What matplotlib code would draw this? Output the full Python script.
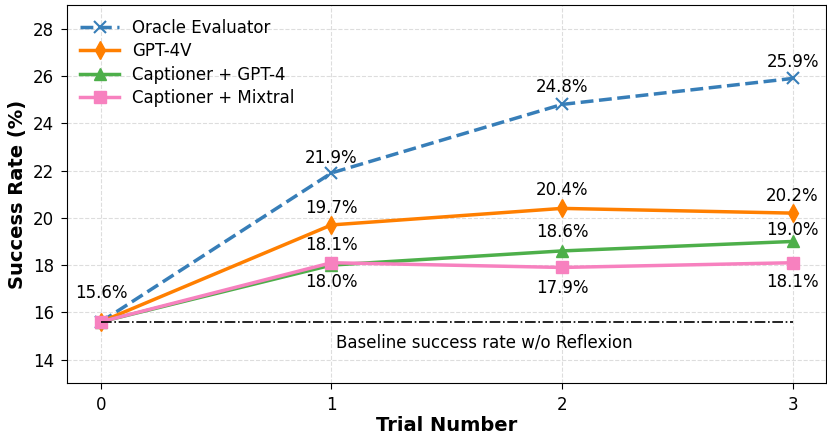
import matplotlib
matplotlib.use("Agg")
import matplotlib.pyplot as plt

trials = [0, 1, 2, 3]
oracle = [15.6, 21.9, 24.8, 25.9]
gpt4v = [15.6, 19.7, 20.4, 20.2]
cap_gpt4 = [15.6, 18.0, 18.6, 19.0]
cap_mixtral = [15.6, 18.1, 17.9, 18.1]
baseline = 15.6

fig, ax = plt.subplots(figsize=(8.28, 4.34), dpi=100)
fig.subplots_adjust(left=0.081, right=0.997, top=0.988, bottom=0.117)

ax.plot(trials, oracle, color="#377eb8", ls="--", marker="x", lw=2.5, ms=8, mew=1.5, label="Oracle Evaluator")
ax.plot(trials, gpt4v, color="#ff7f00", ls="-", marker="d", lw=2.5, ms=9, label="GPT-4V")
ax.plot(trials, cap_gpt4, color="#4daf4a", ls="-", marker="^", lw=2.5, ms=8, label="Captioner + GPT-4")
ax.plot(trials, cap_mixtral, color="#f781bf", ls="-", marker="s", lw=2.5, ms=8, label="Captioner + Mixtral")
ax.plot([trials[0], trials[-1]], [baseline, baseline], color="black", ls="-.", lw=1.2)
ax.text(1.665, 14.72, "Baseline success rate w/o Reflexion", ha="center", va="center", fontsize=12)

fs = 12
def lab(x, y, dy, dx=0):
    ax.annotate(f"{y:.1f}%", (x, y), xytext=(dx, dy), textcoords="offset points",
                ha="center", va="center", fontsize=fs)

lab(0, 15.6, 21)
lab(1, 21.9, 11)
lab(2, 24.8, 12.5)
lab(3, 25.9, 11.5)
lab(1, 19.7, 12)
lab(2, 20.4, 13)
lab(3, 20.2, 12)
lab(1, 18.0, -12)
lab(2, 18.6, 13.5)
lab(3, 19.0, 8)
lab(1, 18.1, 13)
lab(2, 17.9, -15)
lab(3, 18.1, -14)

ax.set_xlim(-0.147, 3.143)
ax.set_ylim(13, 29)
ax.set_xticks(trials)
ax.set_yticks([14, 16, 18, 20, 22, 24, 26, 28])
ax.tick_params(labelsize=12, length=4.5, pad=5)
ax.set_xlabel("Trial Number", fontsize=14, fontweight="bold", labelpad=1)
ax.set_ylabel("Success Rate (%)", fontsize=14, fontweight="bold")
ax.grid(True, ls="--", color="#dddddd", lw=0.8)
ax.set_axisbelow(True)
ax.legend(loc="upper left", fontsize=12, frameon=False, labelspacing=0.33,
          borderaxespad=0.4, handlelength=2.3)

fig.savefig("out.png", dpi=100)
